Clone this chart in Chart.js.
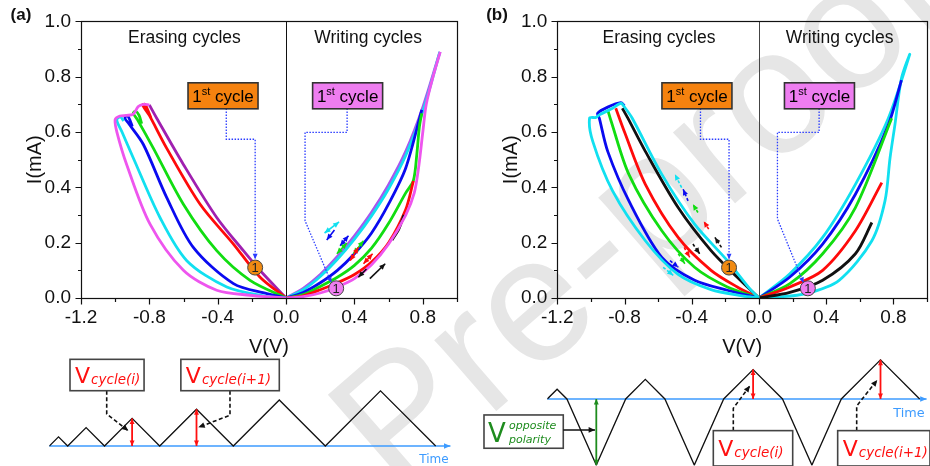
<!DOCTYPE html>
<html>
<head>
<meta charset="utf-8">
<script src="https://cdn.jsdelivr.net/npm/chart.js@4.4.0/dist/chart.umd.min.js"></script>
<style>
html, body { margin: 0; padding: 0; background: #fff; overflow: hidden; }
#wrap { position: relative; width: 930px; height: 466px; overflow: hidden; }
canvas { position: absolute; }
#wm {
    position: absolute; left: 637px; top: 207px;
    font: 178px "Liberation Sans", Arial, sans-serif;
    color: #e6e6e6; white-space: nowrap;
    transform: translate(-50%, -50%) rotate(-41deg);
}
</style>
</head>
<body>
<div id="wrap">
    <div id="wm">Pre-proof</div>
    <canvas id="ivA" width="470" height="362" style="left:0;top:0"></canvas>
    <canvas id="ivB" width="465" height="362" style="left:470px;top:0"></canvas>
    <canvas id="waveA" width="470" height="126" style="left:0;top:340px"></canvas>
    <canvas id="waveB" width="460" height="126" style="left:470px;top:340px"></canvas>
</div>
<script>
// ---- panel (a): I-V loops, [V, I] pairs ----
const aEraseMagenta = [[0, 0], [-0.211, 0.01], [-0.406, 0.028], [-0.601, 0.10], [-0.796, 0.267], [-0.933, 0.483], [-0.99, 0.6], [-1.0, 0.645], [-0.972, 0.658], [-0.933, 0.66], [-0.894, 0.665], [-0.865, 0.692], [-0.835, 0.70], [-0.80, 0.698]];
const aEraseCyan = [[0, 0], [-0.113, 0.006], [-0.347, 0.040], [-0.581, 0.135], [-0.738, 0.291], [-0.894, 0.506], [-0.96, 0.6], [-0.991, 0.644], [-0.97, 0.655], [-0.95, 0.64]];
const aEraseBlue = [[0, 0], [-0.113, 0.016], [-0.308, 0.052], [-0.543, 0.183], [-0.699, 0.364], [-0.835, 0.555], [-0.92, 0.63], [-0.943, 0.65], [-0.93, 0.66], [-0.915, 0.645], [-0.9, 0.62]];
const aEraseGreen = [[0, 0], [-0.211, 0.064], [-0.406, 0.171], [-0.601, 0.339], [-0.777, 0.542], [-0.87, 0.645], [-0.894, 0.668], [-0.88, 0.675], [-0.86, 0.66], [-0.845, 0.63]];
const aEraseRed = [[0, 0], [-0.152, 0.075], [-0.308, 0.195], [-0.503, 0.339], [-0.699, 0.542], [-0.80, 0.66], [-0.839, 0.698], [-0.825, 0.70], [-0.81, 0.68], [-0.79, 0.65]];
const aErasePurple = [[-0.80, 0.698], [-0.757, 0.650], [-0.601, 0.483], [-0.406, 0.291], [-0.25, 0.171], [-0.152, 0.0995], [0, 0]];
const aWriteViolet = [[0, 0], [0.1, 0.035], [0.2, 0.085], [0.3, 0.15], [0.4, 0.225], [0.5, 0.31], [0.6, 0.41], [0.7, 0.53], [0.8, 0.69], [0.9, 0.89]];
const aWriteCyan = [[0, 0], [0.1, 0.03], [0.2, 0.078], [0.3, 0.14], [0.4, 0.213], [0.5, 0.297], [0.6, 0.395], [0.7, 0.515], [0.8, 0.675], [0.9, 0.89]];
const aWriteMagenta = [[0, 0], [0.1, 0.005], [0.2, 0.018], [0.3, 0.04], [0.4, 0.07], [0.5, 0.12], [0.6, 0.195], [0.7, 0.3], [0.75, 0.38], [0.775, 0.47], [0.80, 0.6], [0.82, 0.7], [0.86, 0.8], [0.902, 0.89]];
const aWriteBlue = [[0, 0], [0.1, 0.02], [0.2, 0.055], [0.3, 0.1], [0.4, 0.16], [0.5, 0.235], [0.6, 0.34], [0.7, 0.47], [0.794, 0.68]];
const aWriteGreen = [[0, 0], [0.1, 0.012], [0.2, 0.042], [0.3, 0.075], [0.4, 0.118], [0.5, 0.18], [0.6, 0.27], [0.7, 0.38], [0.745, 0.425], [0.765, 0.52], [0.78, 0.62], [0.794, 0.668]];
const aWriteRed = [[0, 0], [0.1, 0.008], [0.2, 0.03], [0.3, 0.055], [0.4, 0.085], [0.5, 0.13], [0.6, 0.2], [0.7, 0.32], [0.745, 0.423]];
const aWriteBlack = [[0.62, 0.21], [0.66, 0.25], [0.69, 0.30]];

// ---- panel (b) ----
const bEraseCyan = [[0, 0], [-0.1, 0.008], [-0.285, 0.03], [-0.481, 0.085], [-0.676, 0.207], [-0.871, 0.387], [-0.989, 0.566], [-1.008, 0.65], [-0.969, 0.653], [-0.95, 0.662], [-0.871, 0.686], [-0.822, 0.704], [-0.80, 0.69], [-0.754, 0.65], [-0.578, 0.447], [-0.383, 0.267], [-0.188, 0.135], [-0.05, 0.03], [0, 0]];
const bEraseBlue = [[0, 0], [-0.188, 0.028], [-0.383, 0.064], [-0.578, 0.147], [-0.774, 0.351], [-0.90, 0.53], [-0.95, 0.65], [-0.96, 0.668], [-0.90, 0.69], [-0.822, 0.706], [-0.80, 0.695]];
const bEraseGreen = [[0, 0], [-0.188, 0.04], [-0.383, 0.111], [-0.578, 0.243], [-0.774, 0.447], [-0.88, 0.64], [-0.90, 0.68]];
const bEraseRed = [[0, 0], [-0.129, 0.04], [-0.285, 0.10], [-0.481, 0.219], [-0.676, 0.411], [-0.80, 0.6], [-0.852, 0.686]];
const bEraseBlack = [[0, 0], [-0.129, 0.075], [-0.285, 0.171], [-0.481, 0.327], [-0.676, 0.53], [-0.78, 0.65], [-0.813, 0.686]];
const bWriteCyan = [[0, 0], [0.184, 0.088], [0.379, 0.219], [0.574, 0.411], [0.77, 0.65], [0.897, 0.88], [0.848, 0.794], [0.809, 0.626], [0.78, 0.506], [0.75, 0.351], [0.672, 0.207], [0.477, 0.064], [0.281, 0.016], [0.1, 0.003], [0, 0]];
const bWriteBlue = [[0, 0], [0.184, 0.076], [0.379, 0.195], [0.574, 0.375], [0.77, 0.626], [0.848, 0.788]];
const bWriteGreen = [[0, 0], [0.184, 0.052], [0.379, 0.16], [0.574, 0.327], [0.79, 0.65]];
const bWriteRed = [[0, 0], [0.184, 0.04], [0.379, 0.10], [0.574, 0.243], [0.731, 0.417]];
const bWriteBlack = [[0, 0], [0.184, 0.02], [0.379, 0.064], [0.574, 0.16], [0.672, 0.273]];

// ---- voltage sweep schematics (time, V in arbitrary units) ----
const waveATime = [0, 1, 2, 4, 6, 9, 12, 16, 20, 25, 30, 36, 42];
const waveAVolt = [0, 1, 0, 2, 0, 3, 0, 4, 0, 5, 0, 6, 0];
const waveBTime = [0, 1, 2, 5, 8, 10, 12, 15, 18, 21, 24, 27, 30, 34, 38];
const waveBVolt = [0, 1, 0, -6.75, 0, 2, 0, -6.75, 0, 3, 0, -6.75, 0, 4, 0];

const FONT = '"Liberation Sans", Arial, sans-serif';
const SFONT = '"DejaVu Sans", Verdana, sans-serif';
const C = {
    magenta: '#ee55ee', cyan: '#11e0f0', blue: '#0a0af0', green: '#11dd11',
    red: '#ff0a0a', purple: '#a020b0', violet: '#a855ee', black: '#111111'
};

function ds(pairs, color) {
    return {
        data: pairs.map(p => ({ x: p[0], y: p[1] })),
        borderColor: color, borderWidth: 2.8, showLine: true,
        pointRadius: 0, tension: 0.3, fill: false
    };
}

function tip(ctx, fx, fy, tx, ty, s) {
    const a = Math.atan2(ty - fy, tx - fx);
    ctx.beginPath();
    ctx.moveTo(tx, ty);
    ctx.lineTo(tx - s * Math.cos(a - 0.42), ty - s * Math.sin(a - 0.42));
    ctx.lineTo(tx - s * Math.cos(a + 0.42), ty - s * Math.sin(a + 0.42));
    ctx.closePath();
    ctx.fill();
}

function arrow(ctx, x1, y1, x2, y2, color, both, size, width, dash) {
    ctx.save();
    ctx.strokeStyle = color; ctx.fillStyle = color; ctx.lineWidth = width || 1.5;
    if (dash) ctx.setLineDash(dash);
    ctx.beginPath(); ctx.moveTo(x1, y1); ctx.lineTo(x2, y2); ctx.stroke();
    ctx.setLineDash([]);
    tip(ctx, x1, y1, x2, y2, size || 6);
    if (both) tip(ctx, x2, y2, x1, y1, size || 6);
    ctx.restore();
}

function cycleBox(ctx, cx, cy, fill) {
    const w = 70, h = 26;
    ctx.save();
    ctx.fillStyle = fill;
    ctx.fillRect(cx - w / 2, cy - h / 2, w, h);
    ctx.strokeStyle = '#333'; ctx.lineWidth = 1.6;
    ctx.strokeRect(cx - w / 2, cy - h / 2, w, h);
    const big = '17px ' + FONT, small = '11px ' + FONT;
    ctx.font = big;
    const w1 = ctx.measureText('1').width, w3 = ctx.measureText(' cycle').width;
    ctx.font = small;
    const w2 = ctx.measureText('st').width;
    const x0 = cx - (w1 + w2 + w3) / 2, base = cy + 6;
    ctx.fillStyle = '#000'; ctx.textAlign = 'left'; ctx.textBaseline = 'alphabetic';
    ctx.font = big; ctx.fillText('1', x0, base);
    ctx.font = small; ctx.fillText('st', x0 + w1, base - 7);
    ctx.font = big; ctx.fillText(' cycle', x0 + w1 + w2, base);
    ctx.restore();
}

function circleOne(ctx, x, y, fill) {
    ctx.save();
    ctx.beginPath(); ctx.arc(x, y, 7.5, 0, Math.PI * 2);
    ctx.fillStyle = fill; ctx.fill();
    ctx.strokeStyle = '#444'; ctx.lineWidth = 1; ctx.stroke();
    ctx.fillStyle = '#222'; ctx.font = '13px ' + FONT;
    ctx.textAlign = 'center'; ctx.textBaseline = 'middle';
    ctx.fillText('1', x, y + 1);
    ctx.restore();
}

function ivDeco(o) {
    return {
        id: 'ivDeco',
        beforeDatasetsDraw(chart) {
            const { ctx, chartArea: a, scales: { x, y } } = chart;
            ctx.save();
            const zx = Math.round(x.getPixelForValue(0)) + 0.5;
            ctx.strokeStyle = o.zeroColor; ctx.lineWidth = 1;
            ctx.beginPath(); ctx.moveTo(zx, a.top); ctx.lineTo(zx, a.bottom); ctx.stroke();
            ctx.fillStyle = '#111'; ctx.textAlign = 'center'; ctx.textBaseline = 'middle';
            ctx.font = '17.5px ' + FONT;
            ctx.fillText('Erasing cycles', x.getPixelForValue(-0.595), y.getPixelForValue(0.94));
            ctx.fillText('Writing cycles', x.getPixelForValue(0.48), y.getPixelForValue(0.94));
            ctx.restore();
        },
        afterDatasetsDraw(chart) {
            const { ctx, scales: { x, y } } = chart;
            const X = v => x.getPixelForValue(v), Y = v => y.getPixelForValue(v);
            o.arrows.forEach(r => arrow(ctx, X(r[0]), Y(r[1]), X(r[2]), Y(r[3]), r[4], r[5], 6.5, 1.6, o.dash));
            // dotted leaders from the boxes to the first-cycle markers
            o.leaders.forEach(path => {
                ctx.save();
                ctx.strokeStyle = '#2a3cff'; ctx.fillStyle = '#2a3cff';
                ctx.lineWidth = 1.3; ctx.setLineDash([1.5, 1.5]);
                ctx.beginPath();
                path.forEach((p, i) => i ? ctx.lineTo(X(p[0]), Y(p[1])) : ctx.moveTo(X(p[0]), Y(p[1])));
                ctx.stroke();
                ctx.setLineDash([]);
                const n = path.length;
                tip(ctx, X(path[n - 2][0]), Y(path[n - 2][1]), X(path[n - 1][0]), Y(path[n - 1][1]), 6);
                ctx.restore();
            });
            cycleBox(ctx, X(-0.369), Y(0.731), '#f5820f');
            cycleBox(ctx, X(0.36), Y(0.731), '#ee7df0');
            circleOne(ctx, X(o.orange[0]), Y(o.orange[1]), '#f08a12');
            circleOne(ctx, X(o.pink[0]), Y(o.pink[1]), '#ee7df0');
        },
        afterDraw(chart) {
            const { ctx, chartArea: a, scales: { x, y } } = chart;
            ctx.save();
            ctx.strokeStyle = '#111'; ctx.lineWidth = 1.2;
            const L = Math.round(a.left) + 0.5, T = Math.round(a.top) + 0.5;
            const R = Math.round(a.right) + 0.5, B = Math.round(a.bottom) + 0.5;
            ctx.strokeRect(L, T, R - L, B - T);
            ctx.beginPath();
            x.ticks.forEach(t => {
                const px = Math.round(x.getPixelForValue(t.value)) + 0.5;
                const len = t.label ? 6 : 3.5;
                ctx.moveTo(px, B); ctx.lineTo(px, B + len);
            });
            y.ticks.forEach(t => {
                const py = Math.round(y.getPixelForValue(t.value)) + 0.5;
                const len = t.label ? 6 : 3.5;
                ctx.moveTo(L, py); ctx.lineTo(L - len, py);
            });
            ctx.stroke();
            ctx.fillStyle = '#111'; ctx.font = 'bold 17px ' + FONT;
            ctx.textAlign = 'center'; ctx.textBaseline = 'middle';
            ctx.fillText(o.label, o.labelX, 15);
            ctx.restore();
        }
    };
}

function ivChart(id, datasets, o) {
    return new Chart(document.getElementById(id), {
        type: 'scatter',
        data: { datasets },
        options: {
            responsive: false, animation: false,
            layout: { padding: { left: 0, top: 19, right: o.padRight, bottom: 0 } },
            plugins: { legend: { display: false }, tooltip: { enabled: false } },
            scales: {
                x: {
                    type: 'linear', min: -1.2, max: 1.0,
                    afterFit: s => { s.height = 64; },
                    grid: { display: false, drawTicks: false },
                    border: { display: false },
                    ticks: {
                        stepSize: 0.2, autoSkip: false, maxRotation: 0, padding: 8,
                        color: '#111', font: { family: FONT, size: 19 },
                        callback: v => Math.round(v * 10) % 4 === 0 ? v.toFixed(1) : ''
                    },
                    title: {
                        display: true, text: 'V(V)', color: '#111',
                        font: { family: FONT, size: 20 }, padding: { top: 0, bottom: 3 }
                    }
                },
                y: {
                    min: 0, max: 1.0,
                    afterFit: s => { s.width = o.yWidth; },
                    grid: { display: false, drawTicks: false },
                    border: { display: false },
                    ticks: {
                        stepSize: 0.1, autoSkip: false, padding: 10,
                        color: '#111', font: { family: FONT, size: 19 },
                        callback: v => Math.round(v * 10) % 2 === 0 ? v.toFixed(1) : ''
                    },
                    title: {
                        display: true, text: 'I(mA)', color: '#111',
                        font: { family: FONT, size: 20 }, padding: { top: o.titlePad, bottom: 0 }
                    }
                }
            }
        },
        plugins: [ivDeco(o)]
    });
}

ivChart('ivA', [
    ds(aEraseMagenta, C.magenta), ds(aEraseCyan, C.cyan), ds(aEraseBlue, C.blue),
    ds(aEraseGreen, C.green), ds(aEraseRed, C.red), ds(aErasePurple, C.purple),
    ds(aWriteMagenta, C.magenta), ds(aWriteBlack, C.black), ds(aWriteRed, C.red),
    ds(aWriteGreen, C.green), ds(aWriteBlue, C.blue), ds(aWriteCyan, C.cyan), ds(aWriteViolet, C.violet)
], {
    padRight: 13, yWidth: 81, titlePad: 23, zeroColor: '#111', label: '(a)', labelX: 21,
    orange: [-0.181, 0.11], pink: [0.293, 0.035], dash: null,
    leaders: [
        [[-0.35, 0.685], [-0.35, 0.574], [-0.181, 0.574], [-0.181, 0.14]],
        [[0.357, 0.685], [0.357, 0.599], [0.111, 0.599], [0.111, 0.279], [0.265, 0.055]]
    ],
    arrows: [
        [0.225, 0.235, 0.31, 0.275, C.cyan, true],
        [0.283, 0.246, 0.238, 0.21, C.blue, false],
        [0.316, 0.189, 0.365, 0.225, C.blue, true],
        [0.297, 0.16, 0.355, 0.199, C.green, true],
        [0.394, 0.16, 0.453, 0.207, C.green, true],
        [0.375, 0.135, 0.423, 0.183, C.red, true],
        [0.453, 0.124, 0.506, 0.16, C.red, true],
        [0.47, 0.105, 0.423, 0.075, C.black, false],
        [0.49, 0.07, 0.58, 0.124, C.black, false]
    ]
});

ivChart('ivB', [
    ds(bEraseCyan, C.cyan), ds(bEraseBlue, C.blue), ds(bEraseGreen, C.green),
    ds(bEraseRed, C.red), ds(bEraseBlack, C.black),
    ds(bWriteBlack, C.black), ds(bWriteRed, C.red), ds(bWriteGreen, C.green),
    ds(bWriteBlue, C.blue), ds(bWriteCyan, C.cyan)
], {
    padRight: 2.4, yWidth: 87.3, titlePad: 29, zeroColor: '#444', label: '(b)', labelX: 27,
    orange: [-0.178, 0.11], pink: [0.291, 0.035], dash: [3, 2],
    leaders: [
        [[-0.348, 0.685], [-0.348, 0.574], [-0.178, 0.574], [-0.178, 0.14]],
        [[0.358, 0.685], [0.358, 0.599], [0.110, 0.599], [0.110, 0.286], [0.265, 0.055]]
    ],
    arrows: [
        [-0.46, 0.399, -0.50, 0.447, C.cyan, false],
        [-0.422, 0.351, -0.451, 0.393, C.blue, false],
        [-0.363, 0.309, -0.393, 0.339, C.green, false],
        [-0.299, 0.249, -0.328, 0.277, C.red, false],
        [-0.223, 0.183, -0.262, 0.219, C.black, false],
        [-0.393, 0.195, -0.353, 0.16, C.black, false],
        [-0.445, 0.183, -0.412, 0.147, C.red, false],
        [-0.48, 0.16, -0.441, 0.124, C.green, false],
        [-0.529, 0.135, -0.48, 0.111, C.blue, false],
        [-0.57, 0.111, -0.51, 0.082, C.cyan, false]
    ]
});

// ---- schematics ----
function labelBox(ctx, x1, y1, x2, y2) {
    ctx.save();
    ctx.fillStyle = '#fff'; ctx.fillRect(x1, y1, x2 - x1, y2 - y1);
    ctx.strokeStyle = '#444'; ctx.lineWidth = 1.6; ctx.strokeRect(x1, y1, x2 - x1, y2 - y1);
    ctx.restore();
}

function vCycle(ctx, x1, y1, x2, y2, sub) {
    labelBox(ctx, x1, y1, x2, y2);
    ctx.save();
    ctx.fillStyle = '#ff1010'; ctx.textAlign = 'left'; ctx.textBaseline = 'alphabetic';
    const base = (y1 + y2) / 2 + 7.5;
    ctx.font = '22px ' + SFONT;
    ctx.fillText('V', x1 + 5, base);
    const vw = ctx.measureText('V').width;
    ctx.font = 'oblique 13.5px ' + SFONT;
    ctx.fillText(sub, x1 + 5 + vw + 1, base + 1);
    ctx.restore();
}

function dashedLeader(ctx, pts) {
    ctx.save();
    ctx.strokeStyle = '#111'; ctx.fillStyle = '#111'; ctx.lineWidth = 1.6;
    ctx.setLineDash([4, 2.5]);
    ctx.beginPath();
    pts.forEach((p, i) => i ? ctx.lineTo(p[0], p[1]) : ctx.moveTo(p[0], p[1]));
    ctx.stroke();
    ctx.setLineDash([]);
    const n = pts.length;
    tip(ctx, pts[n - 2][0], pts[n - 2][1], pts[n - 1][0], pts[n - 1][1], 7);
    ctx.restore();
}

function waveDeco(o) {
    return {
        id: 'waveDeco',
        beforeDatasetsDraw(chart) {
            const { ctx, scales: { x, y } } = chart;
            arrow(ctx, x.getPixelForValue(0), y.getPixelForValue(0), x.getPixelForValue(o.axisEnd), y.getPixelForValue(0), '#3d9bff', false, 7, 1.6);
            ctx.save();
            ctx.fillStyle = '#3d9bff'; ctx.font = o.timeSize + 'px ' + SFONT;
            ctx.textAlign = 'center'; ctx.textBaseline = 'alphabetic';
            ctx.fillText('Time', x.getPixelForValue(o.timeAt[0]), y.getPixelForValue(o.timeAt[1]));
            ctx.restore();
        },
        afterDatasetsDraw(chart) {
            const { ctx, scales: { x, y } } = chart;
            const X = v => x.getPixelForValue(v), Y = v => y.getPixelForValue(v);
            o.marks.forEach(m => arrow(ctx, X(m[0]), Y(m[1]), X(m[0]), Y(m[2]), m[3], true, 6, 1.8));
            o.leaders.forEach(l => dashedLeader(ctx, l.map(p => [X(p[0]), Y(p[1])])));
            o.boxes.forEach(b => vCycle(ctx, X(b[0]), Y(b[1]), X(b[2]), Y(b[3]), b[4]));
            if (o.opposite) {
                const b = o.opposite;
                labelBox(ctx, X(b[0]), Y(b[1]), X(b[2]), Y(b[3]));
                arrow(ctx, X(b[4][0]), Y(b[4][1]), X(b[4][2]), Y(b[4][3]), '#111', false, 7, 1.6);
                ctx.save();
                ctx.fillStyle = '#1e8c1e'; ctx.textAlign = 'left'; ctx.textBaseline = 'alphabetic';
                const x1 = X(b[0]), mid = (Y(b[1]) + Y(b[3])) / 2;
                ctx.font = '26px ' + SFONT; ctx.fillText('V', x1 + 4, mid + 10);
                ctx.font = 'oblique 11px ' + SFONT;
                ctx.fillText('opposite', x1 + 25, mid - 3);
                ctx.fillText('polarity', x1 + 25, mid + 11);
                ctx.restore();
            }
        }
    };
}

function waveChart(id, times, volts, o) {
    return new Chart(document.getElementById(id), {
        type: 'scatter',
        data: {
            datasets: [{
                data: times.map((t, i) => ({ x: t, y: volts[i] })),
                showLine: true, borderColor: '#111', borderWidth: 1.3,
                pointRadius: 0, tension: 0
            }]
        },
        options: {
            responsive: false, animation: false,
            layout: { padding: o.pad },
            plugins: { legend: { display: false }, tooltip: { enabled: false } },
            scales: {
                x: { type: 'linear', display: false, min: o.xr[0], max: o.xr[1] },
                y: { display: false, min: o.yr[0], max: o.yr[1] }
            }
        },
        plugins: [waveDeco(o)]
    });
}

waveChart('waveA', waveATime, waveAVolt, {
    pad: { left: 49.3, right: 6.7, top: 4.8, bottom: 1.6 }, xr: [0, 45], yr: [-2, 11],
    axisEnd: 43.6, timeAt: [41.8, -1.85], timeSize: 12,
    marks: [[9, 0, 3, '#ff1010'], [16, 0, 4, '#ff1010']],
    leaders: [
        [[6.24, 6.01], [6.24, 3.48], [8.59, 1.66]],
        [[19.64, 6.01], [19.64, 3.34], [16.2, 2.03]]
    ],
    boxes: [[2.25, 9.42, 10.3, 6.01, 'cycle(i)'], [14.3, 9.42, 25, 6.01, 'cycle(i+1)']]
});

waveChart('waveB', waveBTime, waveBVolt, {
    pad: { left: 77.3, right: 0.5, top: 1.2, bottom: 0.4 }, xr: [0, 39], yr: [-6.8, 5.9],
    axisEnd: 38.7, timeAt: [36.9, -1.86], timeSize: 12.8,
    marks: [[5, 0, -6.75, '#1e8c1e'], [21, 0, 3, '#ff1010'], [34, 0, 4, '#ff1010']],
    leaders: [
        [[18.98, -3.23], [18.98, -0.95], [20.68, 1.36]],
        [[31.57, -3.23], [31.57, -0.71], [33.67, 1.94]]
    ],
    boxes: [[16.94, -3.23, 25.04, -6.84, 'cycle(i)'], [29.63, -3.23, 39.05, -6.84, 'cycle(i+1)']],
    opposite: [-6.46, -1.63, 1.63, -5.03, [1.63, -3.16, 4.87, -3.16]]
});
</script>
</body>
</html>
